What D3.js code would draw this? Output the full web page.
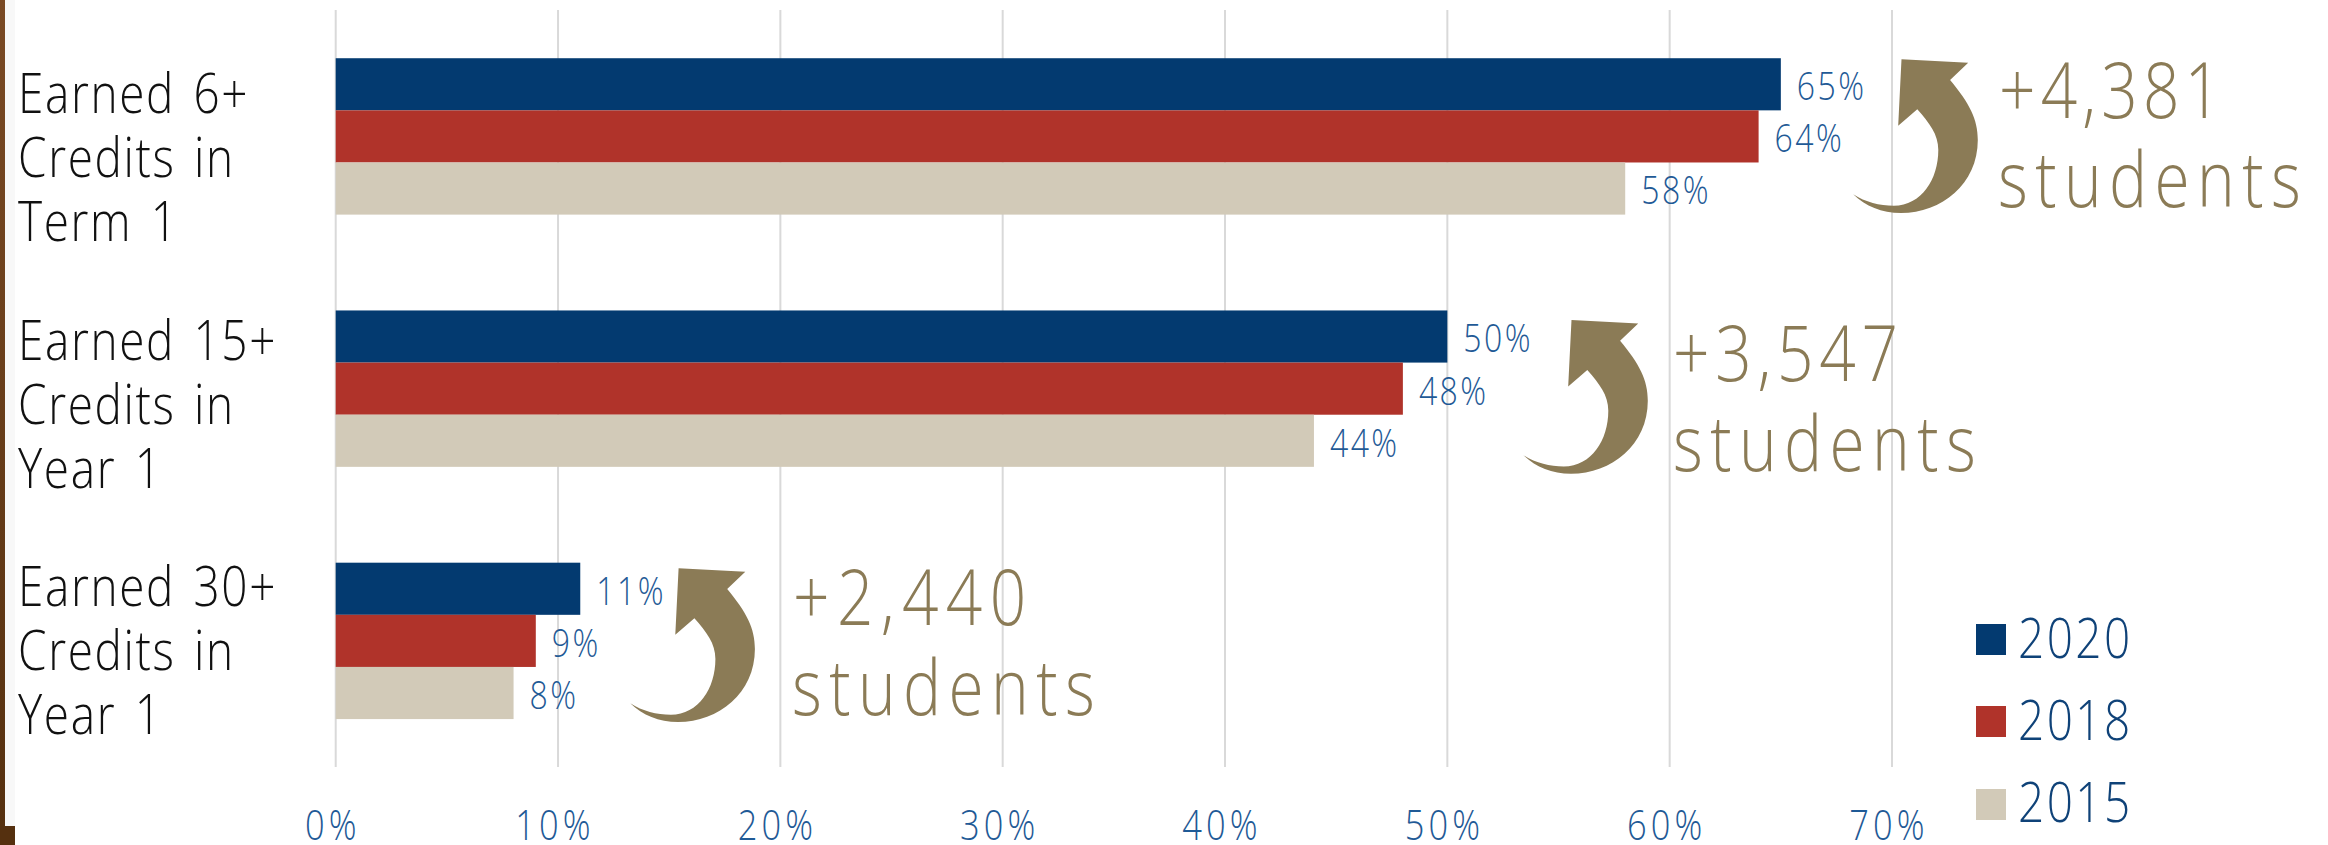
<!DOCTYPE html>
<html><head><meta charset="utf-8">
<script src="https://cdn.jsdelivr.net/npm/d3@7"></script>
<style>html,body{margin:0;padding:0;background:#fff}svg{display:block}text{font-family:"Open Sans";font-weight:300;font-stretch:100%}</style>
</head><body><svg id="c" width="2328" height="845"></svg>
<script>
const categories=[["Earned 6+","Credits in","Term 1"],["Earned 15+","Credits in","Year 1"],["Earned 30+","Credits in","Year 1"]];
const series=["2020","2018","2015"];
const values2020=[65,50,11];
const values2018=[64,48,9];
const values2015=[58,44,8];
const tickValues=[0,10,20,30,40,50,60,70];
const gains=["+4,381","+3,547","+2,440"];
const colors=["#033a70","#b0332a","#d2cab8"];
const allValues=[values2020,values2018,values2015];
const svg=d3.select("#c");
const x=d3.scaleLinear().domain([0,70]).range([335.7,1892]);
const y=d3.scaleBand().domain(d3.range(3)).range([10.3,767]).paddingInner(.38).paddingOuter(.19);
const inner=d3.scaleBand().domain(d3.range(3)).range([0,y.bandwidth()]);
const blue="#1f5a96",tan="#8b7b56",SX=.82;
function label(px,py,str,size,fill,ls,anchor){
 return svg.append("text").attr("transform",`translate(${px},${py}) scale(${SX},1)`).attr("font-size",size).attr("fill",fill).attr("letter-spacing",ls).attr("text-anchor",anchor||"start").text(str);
}
const grad=svg.append("defs").append("linearGradient").attr("id","wood").attr("x1",0).attr("x2",0).attr("y1",0).attr("y2",1);
grad.append("stop").attr("offset",0).attr("stop-color","#7a4a24");
grad.append("stop").attr("offset",1).attr("stop-color","#55300f");
svg.append("rect").attr("x",5).attr("y",0).attr("width",10).attr("height",826).attr("fill","#f8f8f8");
svg.append("rect").attr("x",0).attr("y",0).attr("width",5).attr("height",845).attr("fill","url(#wood)");
svg.append("rect").attr("x",0).attr("y",826).attr("width",15).attr("height",19).attr("fill","#55300f");
svg.selectAll(".g").data(tickValues).join("line").attr("x1",d=>x(d)).attr("x2",d=>x(d)).attr("y1",10).attr("y2",767).attr("stroke","#d9d9d9").attr("stroke-width",2);
tickValues.forEach(t=>label(x(t)-3,840,t+"%",42,blue,5,"middle"));
const labelBase=[113.3,360,606];
categories.forEach((c,i)=>{
 c.forEach((l,k)=>label(18,labelBase[i]+k*64,l,56,"#111",2).attr("word-spacing",6));
 allValues.forEach((v,s)=>{
  const yy=y(i)+inner(s);
  svg.append("rect").attr("x",x(0)).attr("y",yy).attr("width",x(v[i])-x(0)).attr("height",inner.bandwidth()).attr("fill",colors[s]);
  label(x(v[i])+16,yy+42,v[i]+"%",39,blue,3);
 });
});
const arrowAnchors=[[1901.5,59.3],[1571.5,320],[678.6,568.3]];
function arrowPath(){const p=d3.path();p.moveTo(0,0);p.lineTo(66.7,3.4);p.lineTo(48.6,20.7);
 p.bezierCurveTo(68,44,76.3,60,76.3,80.7);p.bezierCurveTo(76.3,125,40,153.7,-0.5,153.7);p.bezierCurveTo(-20,153.7,-36,147,-48.3,135);
 p.bezierCurveTo(-36,143,-22,146.4,-7.7,146.4);p.bezierCurveTo(20,146.4,36.8,120,36.8,90.7);p.bezierCurveTo(36.8,75,28,64,15.8,50);p.lineTo(-3.3,66.4);p.closePath();return p.toString();}
const gainX=[1999,1673,793],studentX=[1998,1673,792],line1=[118,381,625],line2=[207,470.7,715],gainLs=[6.3,7,9];
gains.forEach((g,i)=>{
 svg.append("path").attr("d",arrowPath()).attr("transform",`translate(${arrowAnchors[i]})`).attr("fill",tan);
 label(gainX[i],line1[i],g,78,tan,gainLs[i]);
 label(studentX[i],line2[i],"students",78,tan,9);
});
series.forEach((s,i)=>{
 const ys=[624,706,789][i];
 svg.append("rect").attr("x",1976).attr("y",ys).attr("width",30).attr("height",31).attr("fill",colors[i]);
 label(2018,[658,740,822][i],s,56,"#0f4278",3);
});
</script></body></html>
